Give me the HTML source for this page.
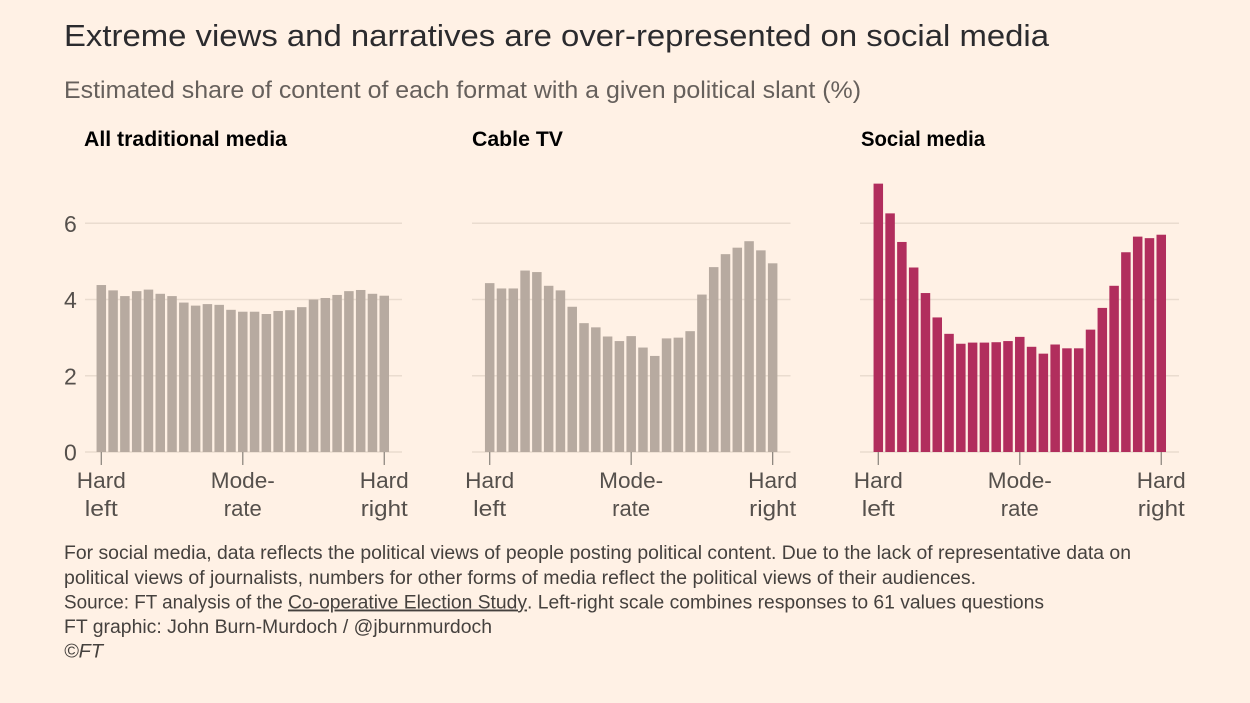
<!DOCTYPE html>
<html lang="en">
<head>
<meta charset="utf-8">
<title>Extreme views and narratives are over-represented on social media</title>
<style>
html,body{margin:0;padding:0;background:#fff1e5;}
svg{display:block;font-family:"Liberation Sans",sans-serif;}
</style>
</head>
<body>
<svg id="chart" xmlns="http://www.w3.org/2000/svg" width="1250" height="703" viewBox="0 0 1250 703">
  <rect width="1250" height="703" fill="#fff1e5"/>
  <text x="64" y="46" font-size="31" fill="#2b2b2e" textLength="985" lengthAdjust="spacingAndGlyphs">Extreme views and narratives are over-represented on social media</text>
  <text x="64" y="98" font-size="24" fill="#66605c" textLength="797" lengthAdjust="spacingAndGlyphs">Estimated share of content of each format with a given political slant (%)</text>
  <g id="panels"></g>
  <g font-size="19" fill="#45413e">
    <text x="64" y="559" textLength="1067" lengthAdjust="spacingAndGlyphs">For social media, data reflects the political views of people posting political content. Due to the lack of representative data on</text>
    <text x="64" y="584" textLength="912" lengthAdjust="spacingAndGlyphs">political views of journalists, numbers for other forms of media reflect the political views of their audiences.</text>
    <text x="64" y="608.5" textLength="224" lengthAdjust="spacingAndGlyphs" xml:space="preserve">Source: FT analysis of the </text>
    <text x="288" y="608.5" textLength="239" lengthAdjust="spacingAndGlyphs" text-decoration="underline">Co-operative Election Study</text>
    <text x="527" y="608.5" textLength="517" lengthAdjust="spacingAndGlyphs" xml:space="preserve">. Left-right scale combines responses to 61 values questions</text>
    <text x="64" y="633" textLength="428" lengthAdjust="spacingAndGlyphs">FT graphic: John Burn-Murdoch / @jburnmurdoch</text>
    <text x="64" y="657.5" font-style="italic" textLength="39" lengthAdjust="spacingAndGlyphs">©FT</text>
  </g>
</svg>
<script>
const panelTitles = ["All traditional media", "Cable TV", "Social media"];
const yTicks = [0, 2, 4, 6];
const xTickIndexes = [0, 12, 24];
const xTickLine1 = ["Hard", "Mode-", "Hard"];
const xTickLine2 = ["left", "rate", "right"];
const traditionalValues = [4.38,4.24,4.09,4.22,4.26,4.15,4.09,3.92,3.84,3.88,3.86,3.73,3.68,3.68,3.62,3.70,3.72,3.80,4.00,4.04,4.12,4.22,4.25,4.15,4.10];
const cableValues = [4.43,4.29,4.29,4.76,4.72,4.36,4.24,3.81,3.38,3.27,3.03,2.91,3.04,2.74,2.52,2.98,3.00,3.17,4.13,4.85,5.19,5.36,5.53,5.29,4.95];
const socialValues = [7.04,6.26,5.51,4.84,4.17,3.53,3.10,2.84,2.87,2.87,2.88,2.91,3.02,2.76,2.58,2.82,2.72,2.72,3.21,3.78,4.36,5.24,5.65,5.61,5.70];

const NS = "http://www.w3.org/2000/svg";
const root = document.getElementById("panels");
const baseY = 452, unit = 38.12, step = 11.79, barW = 9.5;
const yScale = v => baseY - v * unit;
const xScale = (origin, i) => origin + i * step;

function make(parent, tag, attrs, text) {
  const el = document.createElementNS(NS, tag);
  for (const k in attrs) el.setAttribute(k, attrs[k]);
  if (text !== undefined) el.textContent = text;
  parent.appendChild(el);
  return el;
}

const panelSeries = [traditionalValues, cableValues, socialValues];
const panelOrigins = [101.3, 489.7, 878.3];
const gridStarts = [85, 472, 860];
const gridEnds = [402, 790.5, 1179];
const titleStarts = [84, 472, 861];
const titleWidths = [203, 91, 124];
const barColors = ["#b7aaa0", "#b7aaa0", "#b12e5d"];
const line1Widths = [49, 64, 49];
const line2Widths = [33, 38, 47];

panelSeries.forEach((vals, p) => {
  const g = make(root, "g", {});
  
  

  const title = make(g, "text", {x: titleStarts[p], y: 146, "font-size": 21, "font-weight": 700, fill: "#000", textLength: titleWidths[p], lengthAdjust: "spacingAndGlyphs"}, panelTitles[p]);
  
  

  yTicks.forEach(t => {
    const line = make(g, "line", {x1: gridStarts[p], x2: gridEnds[p], y1: yScale(t), y2: yScale(t), stroke: "#eadccf", "stroke-width": 1.5});
    
    
    if (p === 0) {
      const lab = make(g, "text", {x: 64, y: yScale(t) + 8.5, "font-size": 23, fill: "#55504c"}, String(t));
      
      
    }
  });

  vals.forEach((v, i) => {
    const bar = make(g, "rect", {x: xScale(panelOrigins[p], i) - barW / 2, y: yScale(v), width: barW, height: baseY - yScale(v), fill: barColors[p]});
    
    
  });

  xTickIndexes.forEach((idx, k) => {
    const cx = xScale(panelOrigins[p], idx);
    const tick = make(g, "line", {x1: cx, x2: cx, y1: baseY, y2: baseY + 13, stroke: "#8f8880", "stroke-width": 1.3});
    
    
    const l1 = make(g, "text", {x: cx, y: 488, "font-size": 22, fill: "#55504c", "text-anchor": "middle", textLength: line1Widths[k], lengthAdjust: "spacingAndGlyphs"}, xTickLine1[k]);
    
    
    const l2 = make(g, "text", {x: cx, y: 516, "font-size": 22, fill: "#55504c", "text-anchor": "middle", textLength: line2Widths[k], lengthAdjust: "spacingAndGlyphs"}, xTickLine2[k]);
    
    
  });
});
</script>
</body>
</html>
